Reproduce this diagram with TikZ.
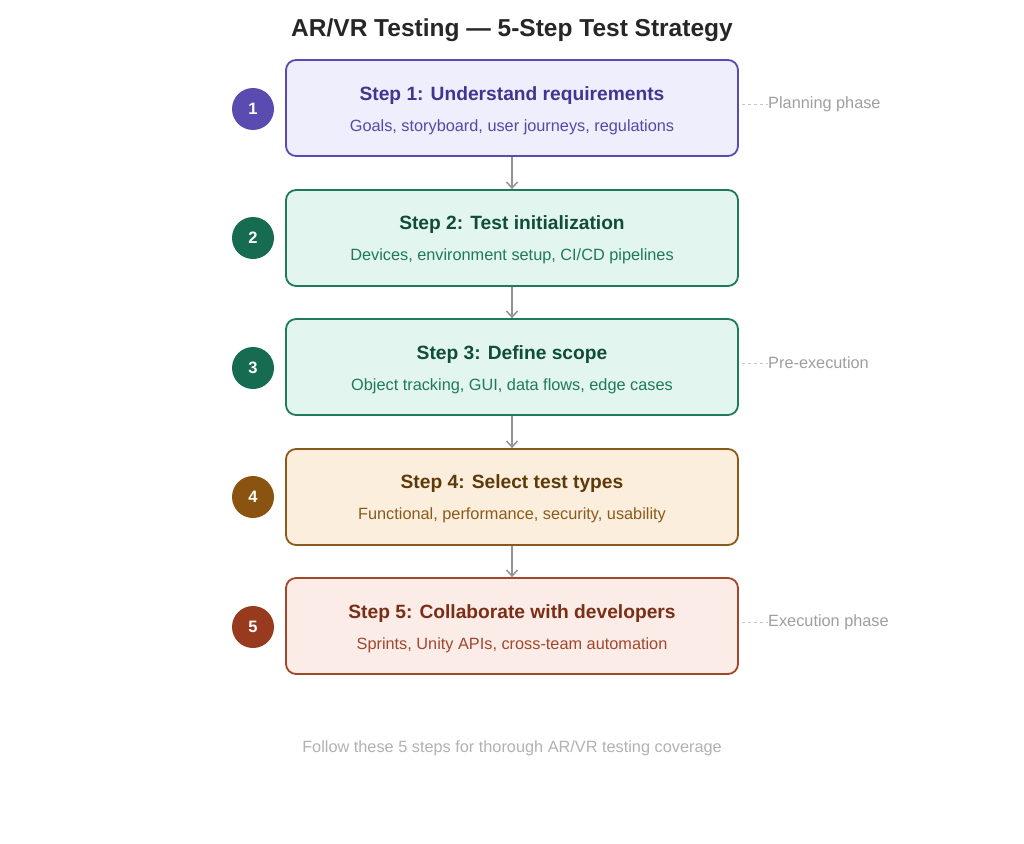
\documentclass[tikz,border=0pt]{standalone}
\usepackage{fontspec}
\setmainfont{Liberation Sans}
\usetikzlibrary{arrows.meta}
\definecolor{pA}{HTML}{5A4BB0}\definecolor{pAf}{HTML}{EFEEFC}\definecolor{pAt}{HTML}{3E3690}\definecolor{pAs}{HTML}{5548A8}
\definecolor{gA}{HTML}{1E7A5A}\definecolor{gAf}{HTML}{E2F5EE}\definecolor{gAt}{HTML}{0F4D3A}\definecolor{gC}{HTML}{176B50}
\definecolor{oA}{HTML}{8B5A1A}\definecolor{oAf}{HTML}{FBEEDC}\definecolor{oAt}{HTML}{5E3A08}\definecolor{oC}{HTML}{8A5410}
\definecolor{rA}{HTML}{A0472C}\definecolor{rAf}{HTML}{FBECE7}\definecolor{rAt}{HTML}{7A2E16}\definecolor{rC}{HTML}{973A1E}
\tikzset{
 stepbox/.style={draw=#1,line width=1.8pt,rounded corners=10pt,minimum width=452pt,minimum height=96pt},
 num/.style={circle,fill=#1,minimum size=42pt,inner sep=0pt,text=white,font=\bfseries\fontsize{16.5}{18}\selectfont},
 ttl/.style={font=\bfseries\fontsize{19.2}{21}\selectfont,text=#1},
 sub/.style={font=\fontsize{16.3}{18}\selectfont,text=#1},
 conn/.style={draw=gray!85,line width=1.5pt,-{Straight Barb[length=6pt,width=11pt]}},
 phase/.style={font=\fontsize{16.3}{18}\selectfont,text=gray!75,anchor=west,inner sep=0pt},
 pline/.style={draw=gray!45,dashed,line width=0.8pt}
}
\begin{document}
\begin{tikzpicture}[x=1pt,y=-1pt]
\useasboundingbox[fill=white] (0,0) rectangle (1024,843);
\node[font=\bfseries\fontsize{24.5}{28}\selectfont,text=black!85] (title) at (512,30) {AR/VR Testing — 5-Step Test Strategy};
\node[stepbox=pA,fill=pAf] (b1) at (512,108) {};
\node[stepbox=gA,fill=gAf] (b2) at (512,238) {};
\node[stepbox=gA,fill=gAf] (b3) at (512,367) {};
\node[stepbox=oA,fill=oAf] (b4) at (512,497) {};
\node[stepbox=rA,fill=rAf] (b5) at (512,626) {};
\node[ttl=pAt] (t1) at (512,96) {Step 1: Understand requirements};
\node[sub=pAs] (s1) at (512,127) {Goals, storyboard, user journeys, regulations};
\node[ttl=gAt] (t2) at (512,225) {Step 2: Test initialization};
\node[sub=gA] (s2) at (512,256) {Devices, environment setup, CI/CD pipelines};
\node[ttl=gAt] (t3) at (512,355) {Step 3: Define scope};
\node[sub=gA] (s3) at (512,386) {Object tracking, GUI, data flows, edge cases};
\node[ttl=oAt] (t4) at (512,484) {Step 4: Select test types};
\node[sub=oA] (s4) at (512,515) {Functional, performance, security, usability};
\node[ttl=rAt] (t5) at (512,614) {Step 5: Collaborate with developers};
\node[sub=rA] (s5) at (512,645) {Sprints, Unity APIs, cross-team automation};
\node[num=pA] (n1) at (253,109) {1};
\node[num=gC] (n2) at (253,238) {2};
\node[num=gC] (n3) at (253,368) {3};
\node[num=oC] (n4) at (253,497) {4};
\node[num=rC] (n5) at (253,627) {5};
\draw[conn] (b1.south) -- (b2.north);
\draw[conn] (b2.south) -- (b3.north);
\draw[conn] (b3.south) -- (b4.north);
\draw[conn] (b4.south) -- (b5.north);
\node[phase] (p1) at (768,104) {Planning phase};
\node[phase] (p2) at (768,363) {Pre-execution};
\node[phase] (p3) at (768,622) {Execution phase};
\coordinate (c1) at (742,104);\coordinate (c2) at (742,363);\coordinate (c3) at (742,622);
\draw[pline] (c1) -- (p1.west);
\draw[pline] (c2) -- (p2.west);
\draw[pline] (c3) -- (p3.west);
\node[font=\fontsize{16.3}{18}\selectfont,text=gray!60] (foot) at (512,748) {Follow these 5 steps for thorough AR/VR testing coverage};
\end{tikzpicture}
\end{document}
